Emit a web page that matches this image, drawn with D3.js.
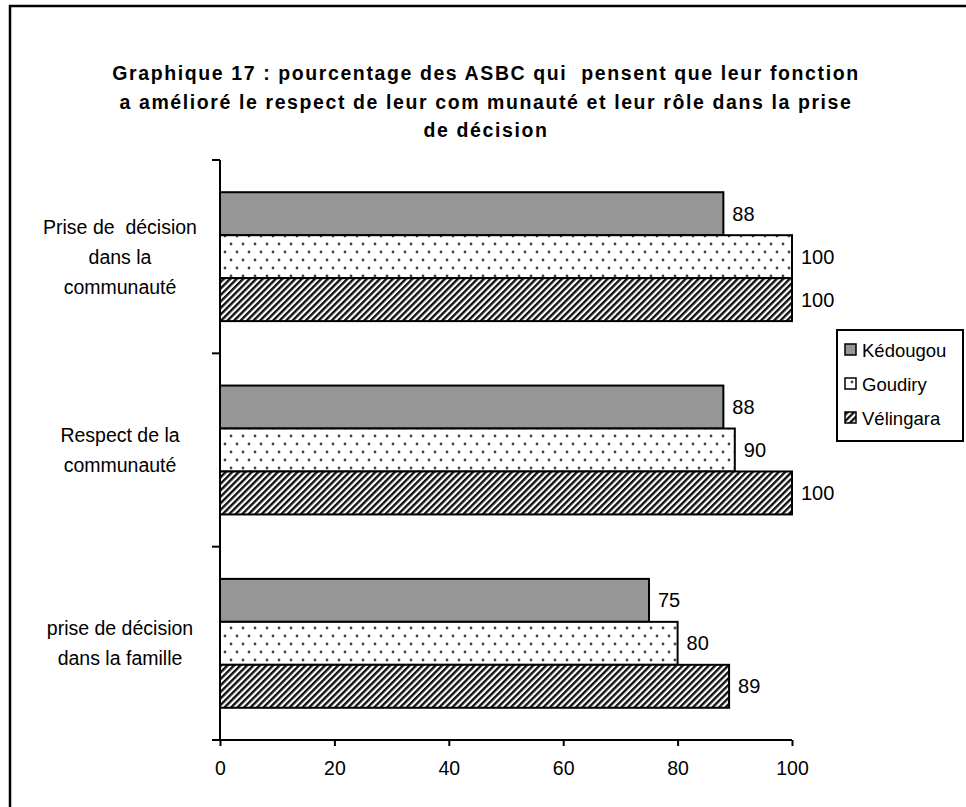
<!DOCTYPE html>
<html><head><meta charset="utf-8">
<script src="https://cdn.jsdelivr.net/npm/d3@7/dist/d3.min.js"></script>
<style>body{margin:0;background:#fff}svg{display:block}text{font-family:"Liberation Sans",Arial,sans-serif;white-space:pre}</style>
</head><body><svg id="c" width="966" height="807"></svg>
<script>
const categories = [
  ["Prise de  décision","dans la","communauté"],
  ["Respect de la","communauté"],
  ["prise de décision","dans la famille"]
];
const series = ["Kédougou","Goudiry","Vélingara"];
const values = [
  [88,100,100],
  [88,90,100],
  [75,80,89]
];
const xTicks = [0,20,40,60,80,100];
const titleLines = [
  "Graphique 17 : pourcentage des ASBC qui  pensent que leur fonction",
  "a amélioré le respect de leur com munauté et leur rôle dans la prise",
  "de décision"
];

const svg = d3.select("#c");
const defs = svg.append("defs");
const dots = defs.append("pattern").attr("id","dots").attr("patternUnits","userSpaceOnUse").attr("width",12).attr("height",16);
dots.append("rect").attr("width",12).attr("height",16).attr("fill","#fff");
dots.append("circle").attr("cx",3).attr("cy",4).attr("r",1.4).attr("fill","#444");
dots.append("circle").attr("cx",9).attr("cy",12).attr("r",1.4).attr("fill","#444");
const hatch = defs.append("pattern").attr("id","hatch").attr("patternUnits","userSpaceOnUse").attr("width",4.6).attr("height",4.6).attr("patternTransform","rotate(45)");
hatch.append("rect").attr("width",4.6).attr("height",4.6).attr("fill","#fff");
hatch.append("rect").attr("x",0).attr("width",2.4).attr("height",4.6).attr("fill","#111");
const fills = ["#969696","url(#dots)","url(#hatch)"];

// frame
svg.append("path").attr("d","M10,900 L10,6 L966,6").attr("fill","none").attr("stroke","#000").attr("stroke-width",2.5);

// title
svg.append("g").selectAll("text").data(titleLines).join("text")
  .attr("x",486).attr("y",(d,i)=>80+i*28.5).attr("text-anchor","middle")
  .attr("font-size",19.5).attr("font-weight","bold").attr("letter-spacing","1.6px").text(d=>d);

const x = d3.scaleLinear().domain([0,100]).range([220,792]);
const y = d3.scaleBand().domain(d3.range(categories.length)).range([160,740]).padding(0);
const yi = d3.scaleBand().domain(d3.range(series.length)).range([0,y.bandwidth()]).paddingInner(0).paddingOuter(0.75);

const g = svg.append("g");
values.forEach((vals,ci)=>{
  vals.forEach((v,si)=>{
    const y0 = y(ci)+yi(si);
    g.append("rect").attr("x",x(0)).attr("y",y0).attr("width",x(v)-x(0)).attr("height",yi.bandwidth())
      .attr("fill",fills[si]).attr("stroke","#000").attr("stroke-width",2);
    g.append("text").attr("x",x(v)+9).attr("y",y0+yi.bandwidth()/2+7).attr("font-size",20).text(v);
  });
  const lines = categories[ci];
  const cy = y(ci)+y.bandwidth()/2;
  lines.forEach((l,li)=>{
    g.append("text").attr("x",120).attr("y",cy+(li-(lines.length-1)/2)*30+7).attr("text-anchor","middle").attr("font-size",19.5).text(l);
  });
});

// axes
const xa = svg.append("g").attr("transform","translate(0,740)")
  .call(d3.axisBottom(x).tickValues(xTicks).tickSize(6).tickPadding(15).tickFormat(d3.format("d")));
xa.select(".domain").remove();
xa.selectAll(".tick line").attr("stroke","#000").attr("stroke-width",2);
xa.selectAll("text").attr("font-size",19.5).attr("font-family","Liberation Sans, Arial, sans-serif").attr("fill","#000");
svg.append("line").attr("x1",212).attr("x2",x(100)).attr("y1",740).attr("y2",740).attr("stroke","#000").attr("stroke-width",2);
svg.append("line").attr("x1",220).attr("x2",220).attr("y1",160).attr("y2",740).attr("stroke","#000").attr("stroke-width",2);
const bounds = d3.range(categories.length+1).map(i=> i<categories.length ? y(i) : 740);
svg.append("g").selectAll("line").data(bounds).join("line")
  .attr("x1",212).attr("x2",220).attr("y1",d=>d).attr("y2",d=>d).attr("stroke","#000").attr("stroke-width",2);

// legend
const lg = svg.append("g").attr("transform","translate(837,330)");
lg.append("rect").attr("width",126).attr("height",111).attr("fill","#fff").attr("stroke","#000").attr("stroke-width",2);
series.forEach((s,i)=>{
  lg.append("rect").attr("x",8).attr("y",14+i*34).attr("width",11).attr("height",11).attr("fill",fills[i]).attr("stroke","#000").attr("stroke-width",1.5);
  lg.append("text").attr("x",25).attr("y",27+i*34).attr("font-size",18.5).text(s);
});
</script></body></html>
